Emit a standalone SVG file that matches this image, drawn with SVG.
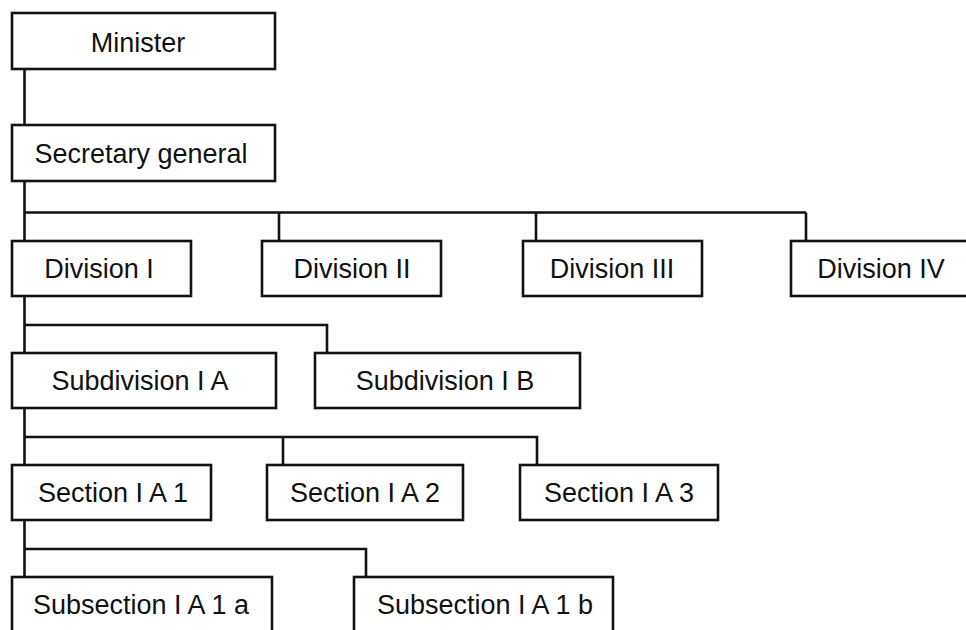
<svg xmlns="http://www.w3.org/2000/svg" width="966" height="630" viewBox="0 0 966 630">
<style>
.box{fill:#fff;stroke:#111;stroke-width:2.6}
.lnk{fill:none;stroke:#111;stroke-width:2.6}
text{font-family:"Liberation Sans",Arial,sans-serif;font-size:27px;fill:#111;text-anchor:middle}
</style>
<rect width="966" height="630" fill="#fff"/>
<g id="connectors">
<path class="lnk" d="M24.5 69V125"/>
<path class="lnk" d="M24.5 181V241M24.5 212.5H806M279 212.5V241M536 212.5V241M806 212.5V241"/>
<path class="lnk" d="M24.5 296V353M24.5 325H327V353"/>
<path class="lnk" d="M24.5 408V465M24.5 437H537V465M283 437V465"/>
<path class="lnk" d="M24.5 520V577M24.5 549H366V577"/>
</g>
<g id="minister"><rect class="box" x="12" y="13" width="263" height="56"/><text x="138" y="52">Minister</text></g>
<g id="secretary"><rect class="box" x="12" y="125" width="263" height="56"/><text x="141" y="163">Secretary general</text></g>
<g id="div1"><rect class="box" x="12" y="241" width="179" height="55"/><text x="99" y="278">Division I</text></g>
<g id="div2"><rect class="box" x="262" y="241" width="179" height="55"/><text x="352" y="278">Division II</text></g>
<g id="div3"><rect class="box" x="523" y="241" width="179" height="55"/><text x="612" y="278">Division III</text></g>
<g id="div4"><rect class="box" x="791" y="241" width="182" height="55"/><text x="881" y="278">Division IV</text></g>
<g id="subIA"><rect class="box" x="12" y="353" width="264" height="55"/><text x="140" y="390">Subdivision I A</text></g>
<g id="subIB"><rect class="box" x="315" y="353" width="265" height="55"/><text x="445" y="390">Subdivision I B</text></g>
<g id="secIA1"><rect class="box" x="12" y="465" width="199" height="55"/><text x="113" y="502">Section I A 1</text></g>
<g id="secIA2"><rect class="box" x="267" y="465" width="196" height="55"/><text x="365" y="502">Section I A 2</text></g>
<g id="secIA3"><rect class="box" x="520" y="465" width="198" height="55"/><text x="619" y="502">Section I A 3</text></g>
<g id="subsecIA1a"><rect class="box" x="12" y="577" width="260" height="70"/><text x="141" y="614">Subsection I A 1 a</text></g>
<g id="subsecIA1b"><rect class="box" x="354" y="577" width="259" height="70"/><text x="485" y="614">Subsection I A 1 b</text></g>
</svg>
